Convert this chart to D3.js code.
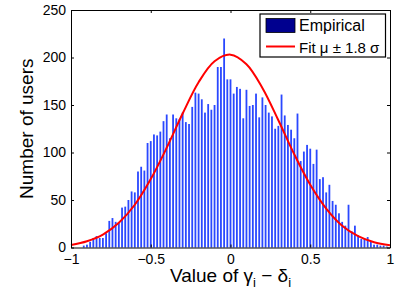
<!DOCTYPE html>
<html>
<head>
<meta charset="utf-8">
<script src="https://cdnjs.cloudflare.com/ajax/libs/d3/7.8.5/d3.min.js"></script>
<style>
  body { margin: 0; background: #fff; }
  svg text { font-family: "Liberation Sans", Arial, Helvetica, sans-serif; fill: #000; }
</style>
</head>
<body>
<div id="chart"></div>
<script>
// histogram counts, one per bin of width 0.02, first bin centred at -0.92
var firstCenter = -0.92;
var binWidth = 0.02;
var counts = [
    2, 3, 6, 10, 12, 10, 10, 15, 28, 31,
    27, 26, 42, 43, 50, 59, 58, 80, 85, 81,
    110, 112, 119, 118, 122, 133, 140, 115, 140, 136,
    135, 142, 132, 130, 148, 163, 162, 156, 142, 151,
    145, 150, 190, 190, 220, 177, 177, 162, 169, 167,
    136, 166, 149, 150, 162, 137, 158, 150, 142, 138,
    125, 128, 161, 139, 129, 124, 115, 141, 91, 101,
    108, 104, 88, 103, 72, 74, 58, 66, 49, 45,
    36, 27, 23, 45, 17, 23, 13, 9, 9, 11,
    6, 3, 3, 2, 2, 1
];

// fitted curve, every 0.1
var fitX = [-1, -0.9, -0.8, -0.7, -0.6, -0.5, -0.4, -0.3, -0.2, -0.1, 0,
            0.1, 0.2, 0.3, 0.4, 0.5, 0.6, 0.7, 0.8, 0.9, 1];
var fitY = [2.6, 6.6, 13.6, 26, 45, 72, 105, 141, 174, 196, 203,
            193, 168, 134, 98, 66, 41, 23, 12, 5.6, 2.4];

var xTicks = [-1, -0.5, 0, 0.5, 1];
var yTicks = [0, 50, 100, 150, 200, 250];

var width = 398, height = 293;
var margin = {top: 10, right: 8, bottom: 45.5, left: 71};
var plotW = width - margin.left - margin.right,
    plotH = height - margin.top - margin.bottom;

var svg = d3.select("#chart").append("svg")
    .attr("width", width)
    .attr("height", height);

var g = svg.append("g")
    .attr("transform", "translate(" + margin.left + "," + margin.top + ")");

var x = d3.scaleLinear().domain([-1, 1]).range([0, plotW]);
var y = d3.scaleLinear().domain([0, 250]).range([plotH, 0]);

// bars
var barW = 1.8;
g.append("g")
    .selectAll("rect")
    .data(counts)
    .enter().append("rect")
    .attr("x", function(d, i) { return x(firstCenter + i * binWidth) - barW / 2; })
    .attr("y", function(d) { return y(d); })
    .attr("width", barW)
    .attr("height", function(d) { return y(0) - y(d); })
    .attr("fill", "#2a48ff");

// fit line
var fitData = fitX.map(function(v, i) { return [v, fitY[i]]; });
g.append("path")
    .datum(fitData)
    .attr("fill", "none")
    .attr("stroke", "#ff0000")
    .attr("stroke-width", 2)
    .attr("d", d3.line()
        .x(function(d) { return x(d[0]); })
        .y(function(d) { return y(d[1]); })
        .curve(d3.curveCatmullRom));

// axes, ticks pointing inward like matlab
function styleAxis(sel) {
    sel.selectAll("path").attr("stroke", "#000").attr("stroke-width", 1);
    sel.selectAll("line").attr("stroke", "#000");
    sel.selectAll("text").attr("font-size", "14px").attr("fill", "#000");
}

var fmt = d3.format("~g");

g.append("g")
    .attr("transform", "translate(0," + plotH + ")")
    .call(d3.axisBottom(x).tickValues(xTicks).tickFormat(fmt).tickSize(-3).tickSizeOuter(0).tickPadding(7))
    .call(styleAxis)
    .attr("font-family", null);

g.append("g")
    .call(d3.axisLeft(y).tickValues(yTicks).tickSize(-3).tickSizeOuter(0).tickPadding(5))
    .call(styleAxis)
    .attr("font-family", null);

g.append("g")
    .call(d3.axisTop(x).tickValues(xTicks).tickSize(-3).tickSizeOuter(0).tickFormat(""))
    .call(styleAxis);

g.append("g")
    .attr("transform", "translate(" + plotW + ",0)")
    .call(d3.axisRight(y).tickValues(yTicks).tickSize(-3).tickSizeOuter(0).tickFormat(""))
    .call(styleAxis);

// axis titles
svg.append("text")
    .attr("transform", "translate(33," + (margin.top + plotH / 2) + ") rotate(-90)")
    .attr("text-anchor", "middle")
    .attr("font-size", "19px")
    .text("Number of users");

var xl = svg.append("text")
    .attr("x", margin.left + plotW / 2)
    .attr("y", 282)
    .attr("text-anchor", "middle")
    .attr("font-size", "19px");
xl.append("tspan").text("Value of \u03b3");
xl.append("tspan").attr("dy", 5).attr("font-size", "13px").text("i");
xl.append("tspan").attr("dy", -5).text(" \u2212 \u03b4");
xl.append("tspan").attr("dy", 5).attr("font-size", "13px").text("i");

// legend
var leg = svg.append("g");
leg.append("rect")
    .attr("x", 260).attr("y", 14)
    .attr("width", 125.5).attr("height", 43)
    .attr("fill", "#fff")
    .attr("stroke", "#000")
    .attr("stroke-width", 1.2);
leg.append("rect")
    .attr("x", 266).attr("y", 18.5)
    .attr("width", 29).attr("height", 14)
    .attr("fill", "#00008f")
    .attr("stroke", "#000")
    .attr("stroke-width", 0.8);
leg.append("text")
    .attr("x", 299).attr("y", 31)
    .attr("font-size", "16px")
    .text("Empirical");
leg.append("line")
    .attr("x1", 266).attr("x2", 295)
    .attr("y1", 46.5).attr("y2", 46.5)
    .attr("stroke", "#ff0000")
    .attr("stroke-width", 2);
leg.append("text")
    .attr("x", 299).attr("y", 52.5)
    .attr("font-size", "15px")
    .text("Fit \u03bc \u00b1 1.8 \u03c3");
</script>
</body>
</html>
